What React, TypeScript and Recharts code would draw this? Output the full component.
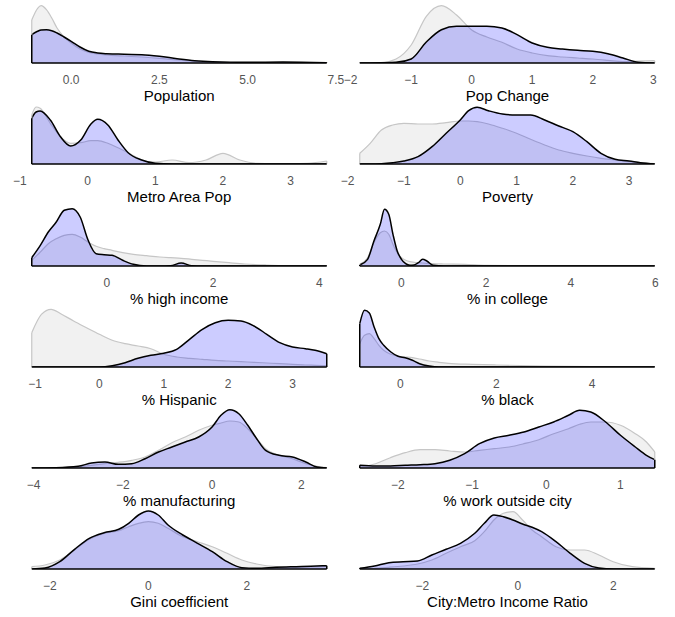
import React from "react";
import { ComposedChart, Area, XAxis, YAxis, ReferenceLine } from "recharts";

// Each panel: x grid (standardised units) plus two density curves on that grid.
// "ALL" = every city (grey), "SEL" = selected cities (blue). Heights are density scaled to panel.

const POPULATION_X = [-1.116, -0.95, -0.85, -0.7, -0.55, -0.4, -0.2, 0, 0.25, 0.5, 0.75, 1.0, 1.25, 1.5, 2.0, 2.5, 3.0, 3.5, 4.0, 5.0, 6.0, 7.24];
const POPULATION_ALL = [43, 54.7, 57.3, 53.3, 45, 35, 26, 20, 14, 10.7, 9, 8, 7.3, 7, 6, 4.7, 3, 1.7, 1, 0.3, 0.3, 0];
const POPULATION_SEL = [28.3, 31.7, 33, 33.3, 32.3, 30, 26, 21.7, 16, 11.7, 10, 9.3, 9, 8.7, 8.3, 6.7, 4.3, 2.3, 1.3, 0.7, 1, 0.3];

const POPCHANGE_X = [-1.85, -1.5, -1.25, -1.0, -0.75, -0.5, -0.25, 0, 0.25, 0.5, 0.75, 1.0, 1.25, 1.5, 1.75, 2.0, 2.25, 2.5, 2.75, 3.025];
const POPCHANGE_ALL = [0.3, 0.3, 4, 18, 46.7, 57.3, 48, 33, 26, 20.7, 14, 10, 7.3, 6, 5, 4, 2.7, 1.3, 2, 2.3];
const POPCHANGE_SEL = [0, 0.3, 0.7, 4, 21, 33.3, 36.7, 36.7, 36.7, 35, 28.3, 20, 15.7, 14, 12.7, 11.7, 9.3, 5, 0.7, 0];

const METRO_X = [-0.824, -0.76, -0.7, -0.55, -0.4, -0.25, -0.1, 0.05, 0.15, 0.3, 0.45, 0.6, 0.8, 1.0, 1.25, 1.5, 1.75, 2.0, 2.25, 2.5, 2.75, 3.0, 3.25, 3.533];
const METRO_ALL = [49, 57, 55.7, 40.7, 27.3, 20.7, 21.3, 23.3, 23.3, 20.7, 16.3, 11.3, 4, 2, 4, 1.3, 4, 10.7, 4, 0.7, 0.3, 0.3, 0.7, 3];
const METRO_SEL = [45.7, 52, 53, 44, 27.3, 18, 24, 40, 44.7, 39, 24, 11.3, 4, 0.7, 0, 0, 0, 0, 0, 0, 0, 0, 0, 0];

const POVERTY_X = [-1.785, -1.6, -1.4, -1.2, -1.0, -0.75, -0.5, -0.25, 0, 0.15, 0.3, 0.5, 0.75, 1.0, 1.25, 1.5, 1.75, 2.0, 2.25, 2.5, 2.75, 3.0, 3.2, 3.455];
const POVERTY_ALL = [10.7, 20.7, 34, 39, 40.7, 40, 40, 41.3, 43, 43, 42.3, 40, 35.7, 30.7, 24.7, 19, 14, 10.7, 8, 5.7, 4, 2.3, 1.3, 0.3];
const POVERTY_SEL = [0, 0, 0.3, 1.3, 3, 7.3, 17.3, 30.7, 44, 53.3, 56.7, 53.3, 50, 49, 49, 44, 38, 32.3, 22.3, 10.7, 4.7, 3, 1.3, 0];

const HIGHINC_X = [-1.411, -1.25, -1.1, -0.95, -0.8, -0.65, -0.5, -0.35, -0.2, -0.05, 0.1, 0.3, 0.5, 0.75, 1.0, 1.2, 1.4, 1.6, 1.8, 2.0, 2.3, 2.6, 3.0, 3.5, 4.139];
const HIGHINC_ALL = [5.7, 14, 22.3, 27.3, 30.7, 31.7, 29, 24, 19.7, 17.3, 15.7, 13.3, 11.7, 10.3, 9, 8.3, 7.7, 6.7, 5.7, 4.7, 3.3, 2, 1, 0.3, 0];
const HIGHINC_SEL = [8.3, 20.7, 34, 44, 55.7, 57.3, 49, 25.7, 12.3, 11.3, 10.7, 5.7, 1.7, 0, 0, 0.3, 3, 0.3, 0, 0, 0, 0, 0, 0, 0];

const COLLEGE_X = [-0.985, -0.8, -0.65, -0.5, -0.4, -0.3, -0.2, -0.1, 0, 0.1, 0.2, 0.3, 0.4, 0.5, 0.6, 0.75, 1.0, 1.5, 2.0, 3.0, 4.0, 5.0, 5.984];
const COLLEGE_ALL = [1.7, 8.3, 23.3, 33.3, 35, 31.7, 21.7, 13.3, 8.3, 5.7, 4.3, 3.7, 3.3, 3, 2.7, 2.3, 2, 1.7, 0.7, 0.3, 0.3, 0, 0];
const COLLEGE_SEL = [1, 6.7, 25, 41.7, 56.7, 51.7, 31.7, 15, 6.7, 2.3, 0.7, 1, 3.3, 6.7, 5, 0.7, 0, 0, 0, 0, 0, 0, 0];

const HISPANIC_X = [-1.05, -0.9, -0.75, -0.6, -0.4, -0.2, 0, 0.2, 0.4, 0.6, 0.8, 1.0, 1.2, 1.4, 1.6, 1.8, 2.0, 2.2, 2.4, 2.6, 2.8, 3.0, 3.2, 3.35, 3.531];
const HISPANIC_ALL = [34.3, 52.7, 57.7, 53.3, 46, 39.3, 32.7, 26.7, 23.3, 21, 18.3, 12.7, 10, 8.7, 7.7, 6.7, 6, 5.3, 4.7, 4, 3.3, 2.7, 2, 1.7, 1.3];
const HISPANIC_SEL = [0, 0, 0, 0, 0, 0, 0, 1.3, 4.3, 8.7, 11.7, 13.7, 17.7, 27.7, 37.7, 44.3, 46.7, 46, 41, 32.7, 24.3, 20, 18.3, 16.7, 13.3];

const BLACK_X = [-0.85, -0.75, -0.65, -0.55, -0.45, -0.35, -0.2, -0.05, 0.1, 0.25, 0.4, 0.6, 0.8, 1.0, 1.5, 2.0, 3.0, 4.0, 5.309];
const BLACK_ALL = [23.3, 31.7, 33.3, 28.3, 21.7, 16.7, 12.7, 10.7, 10, 9.3, 8, 6, 4.7, 3.7, 2.7, 2, 1, 0.3, 0];
const BLACK_SEL = [43.3, 56.7, 54, 40, 28.3, 21.7, 15, 10.7, 9.3, 6.7, 3.3, 1, 0, 0, 0, 0, 0, 0, 0];

const MANUF_X = [-4.04, -3.5, -3.0, -2.7, -2.4, -2.1, -1.8, -1.5, -1.2, -0.9, -0.6, -0.3, 0, 0.2, 0.4, 0.6, 0.8, 1.0, 1.2, 1.5, 1.8, 2.1, 2.35, 2.57];
const MANUF_ALL = [0, 0.3, 1, 2.7, 4.3, 5.7, 7.7, 11, 17.7, 25.3, 31, 37.7, 42.7, 45, 47, 46, 39.3, 29.3, 19.3, 12.7, 9.3, 4.3, 1.7, 0.3];
const MANUF_SEL = [0, 0.3, 1.7, 5, 6, 3.7, 4.3, 9.3, 16, 21, 26, 31, 41, 52.7, 58.3, 54.3, 42.7, 29.3, 17.7, 12.7, 11, 6, 1, 0];

const OUTSIDE_X = [-2.513, -2.3, -2.1, -1.9, -1.7, -1.5, -1.3, -1.1, -0.9, -0.7, -0.5, -0.3, -0.1, 0.1, 0.3, 0.45, 0.6, 0.8, 1.0, 1.2, 1.35, 1.462];
const OUTSIDE_ALL = [1, 4.3, 10.3, 15.3, 18.3, 18.3, 17, 16, 17.7, 19.3, 21, 24.3, 28.3, 34.3, 39.3, 43.7, 46, 46, 42.7, 34.3, 26, 16];
const OUTSIDE_SEL = [2.7, 2, 2, 2.7, 3.3, 4.3, 7.7, 14.3, 24.3, 30, 32.7, 36, 41, 46, 52.7, 57.7, 56, 46, 32.7, 21, 12.7, 8.3];

const GINI_X = [-2.37, -2.1, -1.8, -1.5, -1.2, -0.9, -0.6, -0.4, -0.2, 0, 0.2, 0.4, 0.7, 1.0, 1.3, 1.6, 1.9, 2.2, 2.6, 3.0, 3.3, 3.626];
const GINI_ALL = [2.3, 4, 9, 19, 29.7, 35.7, 38.3, 42.3, 45.7, 47.3, 45.7, 40.7, 32.3, 27.3, 22.3, 15.7, 9, 5, 2.3, 1.7, 2, 2.7];
const GINI_SEL = [0, 1, 7.3, 19.7, 30.7, 36.3, 39.7, 45.7, 54, 58, 54, 44, 34, 25.7, 17.3, 7.3, 1.3, 0.7, 1.7, 2.3, 2.7, 3.3];

const RATIO_X = [-3.31, -3.0, -2.7, -2.4, -2.1, -1.8, -1.5, -1.2, -0.9, -0.7, -0.5, -0.3, -0.1, 0.1, 0.3, 0.5, 0.8, 1.1, 1.4, 1.7, 2.0, 2.4, 2.87];
const RATIO_ALL = [0, 0.7, 1.7, 3, 5, 9, 15.7, 22.3, 28.3, 37.3, 49, 55.7, 57.3, 49, 39, 32.3, 22.3, 19, 19, 14, 7.3, 2.3, 0.7];
const RATIO_SEL = [0.7, 3, 6.3, 7.3, 8, 14, 19.7, 25.7, 35.7, 45.7, 54, 52.3, 49, 45, 41.7, 37.3, 27.3, 15.7, 5.7, 1, 0, 0, 0];

const PANELS = [
  { title: "Population", x: POPULATION_X, all: POPULATION_ALL, sel: POPULATION_SEL, ticks: [0, 2.5, 5, 7.5], digits: 1 },
  { title: "Pop Change", x: POPCHANGE_X, all: POPCHANGE_ALL, sel: POPCHANGE_SEL, ticks: [-2, -1, 0, 1, 2, 3], digits: 0 },
  { title: "Metro Area Pop", x: METRO_X, all: METRO_ALL, sel: METRO_SEL, ticks: [-1, 0, 1, 2, 3], digits: 0 },
  { title: "Poverty", x: POVERTY_X, all: POVERTY_ALL, sel: POVERTY_SEL, ticks: [-2, -1, 0, 1, 2, 3], digits: 0 },
  { title: "% high income", x: HIGHINC_X, all: HIGHINC_ALL, sel: HIGHINC_SEL, ticks: [0, 2, 4], digits: 0 },
  { title: "% in college", x: COLLEGE_X, all: COLLEGE_ALL, sel: COLLEGE_SEL, ticks: [0, 2, 4, 6], digits: 0 },
  { title: "% Hispanic", x: HISPANIC_X, all: HISPANIC_ALL, sel: HISPANIC_SEL, ticks: [-1, 0, 1, 2, 3], digits: 0 },
  { title: "% black", x: BLACK_X, all: BLACK_ALL, sel: BLACK_SEL, ticks: [0, 2, 4], digits: 0 },
  { title: "% manufacturing", x: MANUF_X, all: MANUF_ALL, sel: MANUF_SEL, ticks: [-4, -2, 0, 2], digits: 0 },
  { title: "% work outside city", x: OUTSIDE_X, all: OUTSIDE_ALL, sel: OUTSIDE_SEL, ticks: [-2, -1, 0, 1], digits: 0 },
  { title: "Gini coefficient", x: GINI_X, all: GINI_ALL, sel: GINI_SEL, ticks: [-2, 0, 2], digits: 0 },
  { title: "City:Metro Income Ratio", x: RATIO_X, all: RATIO_ALL, sel: RATIO_SEL, ticks: [-2, 0, 2], digits: 0 },
];

const FONT = "'Liberation Sans', Arial, Helvetica, sans-serif";
const PLOT_W = 324.5;
const PLOT_H = 60;
const SIDE = 16; // room either side so edge tick labels are not clipped
const TOP_PAD = 2;
const AXIS_H = 30;
const COL_LEFT = [16.95, 345.25];
const ROW_BASE = 63.3;
const ROW_STEP = 101.1;

const GREY_LINE = "#c6c6c6";

function Panel({ p, col, row }: { p: (typeof PANELS)[number]; col: number; row: number }) {
  const data = p.x.map((x, i) => ({ x, all: p.all[i], sel: p.sel[i] }));
  const lo = p.x[0];
  const hi = p.x[p.x.length - 1];
  const pad = (hi - lo) * 0.05;
  const last = p.x.length - 1;
  const baseline = ROW_BASE + row * ROW_STEP;
  const fmt = (v: number) => v.toFixed(p.digits).replace("-", "\u2212");

  return (
    <div style={{ position: "absolute", left: COL_LEFT[col] - SIDE, top: baseline - PLOT_H - TOP_PAD }}>
      <ComposedChart
        width={PLOT_W + SIDE * 2}
        height={TOP_PAD + PLOT_H + AXIS_H}
        data={data}
        margin={{ top: TOP_PAD, right: SIDE, bottom: 0, left: SIDE }}
      >
        <XAxis
          dataKey="x"
          type="number"
          domain={[lo - pad, hi + pad]}
          allowDataOverflow
          ticks={p.ticks}
          interval={0}
          tickFormatter={fmt}
          axisLine={false}
          tickLine={false}
          tickSize={6}
          tickMargin={6}
          height={AXIS_H}
          tick={{ fill: "#555555", fontSize: 12, fontFamily: FONT }}
        />
        <YAxis hide domain={[0, PLOT_H]} allowDataOverflow />
        <Area
          type="monotone"
          dataKey="all"
          fill="#bebebe"
          fillOpacity={0.22}
          stroke={GREY_LINE}
          strokeWidth={1.2}
          isAnimationActive={false}
        />
        <ReferenceLine segment={[{ x: lo, y: 0 }, { x: lo, y: p.all[0] }]} stroke={GREY_LINE} strokeWidth={1.2} />
        <ReferenceLine segment={[{ x: hi, y: 0 }, { x: hi, y: p.all[last] }]} stroke={GREY_LINE} strokeWidth={1.2} />
        <Area
          type="monotone"
          dataKey="sel"
          fill="#0000ff"
          fillOpacity={0.2}
          stroke="#000000"
          strokeWidth={1.5}
          isAnimationActive={false}
        />
        <ReferenceLine segment={[{ x: lo, y: 0 }, { x: hi, y: 0 }]} stroke="#000000" strokeWidth={1.5} />
        <ReferenceLine segment={[{ x: lo, y: 0 }, { x: lo, y: p.sel[0] }]} stroke="#000000" strokeWidth={1.5} />
        <ReferenceLine segment={[{ x: hi, y: 0 }, { x: hi, y: p.sel[last] }]} stroke="#000000" strokeWidth={1.5} />
      </ComposedChart>
      <div
        style={{
          position: "absolute",
          left: SIDE,
          width: PLOT_W,
          top: TOP_PAD + PLOT_H + 24,
          textAlign: "center",
          fontFamily: FONT,
          fontSize: 15,
          lineHeight: "18px",
          color: "#000",
          whiteSpace: "nowrap",
        }}
      >
        {p.title}
      </div>
    </div>
  );
}

export default function App() {
  return (
    <div style={{ position: "absolute", left: 0, top: 0, width: 675, height: 617, background: "#fff" }}>
      {PANELS.map((p, i) => (
        <Panel key={p.title} p={p} col={i % 2} row={Math.floor(i / 2)} />
      ))}
    </div>
  );
}
